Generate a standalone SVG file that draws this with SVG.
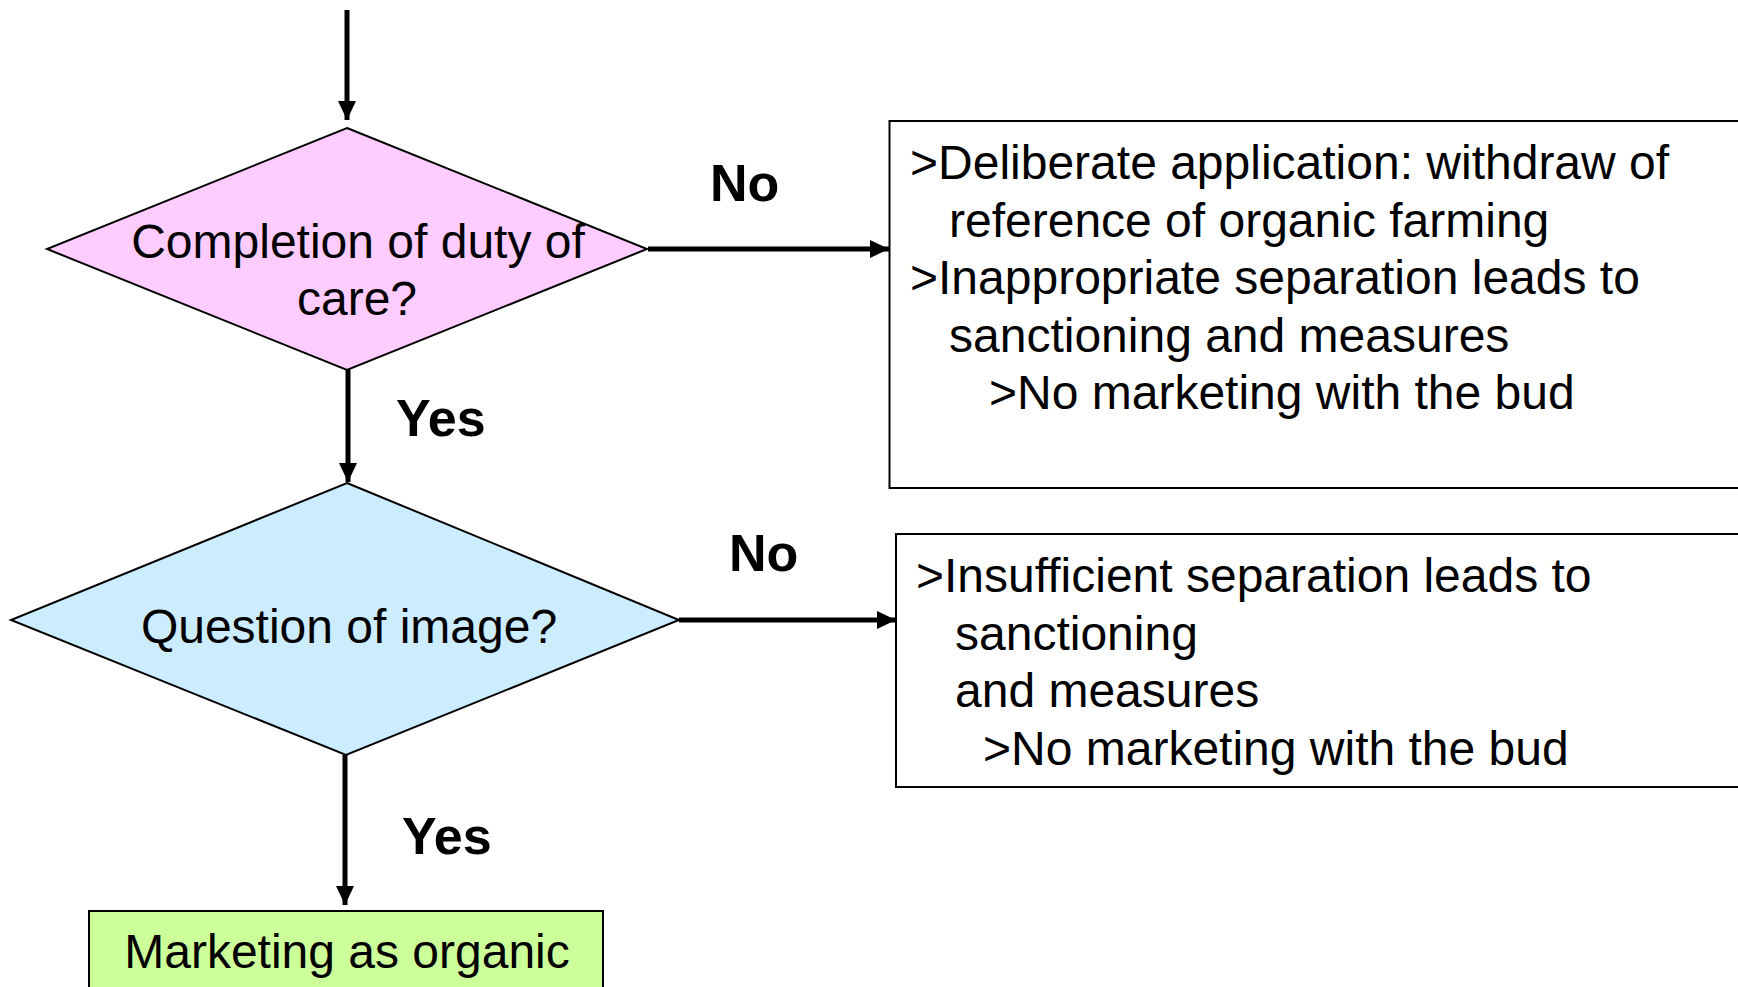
<svg xmlns="http://www.w3.org/2000/svg" width="1738" height="987" viewBox="0 0 1738 987">
  <style>
    .shape { stroke: #000; stroke-width: 2; }
    .txt { font-family: "Liberation Sans", Arial, sans-serif; font-size: 48px; fill: #000; }
    .lbl { font-family: "Liberation Sans", Arial, sans-serif; font-size: 52px; font-weight: bold; fill: #000; }
    .conn { stroke: #000; stroke-width: 5; fill: none; marker-end: url(#arrow); }
  </style>
  <defs>
    <marker id="arrow" markerUnits="userSpaceOnUse" markerWidth="20" markerHeight="18" refX="19" refY="9" orient="auto">
      <path d="M0,0 L19,9 L0,18 z" fill="#000"/>
    </marker>
  </defs>
  <rect width="1738" height="987" fill="#fff"/>

  <g id="connectors">
    <line class="conn" x1="347" y1="10" x2="347" y2="120"/>
    <line class="conn" x1="648" y1="249" x2="889" y2="249"/>
    <line class="conn" x1="348" y1="370" x2="348" y2="482"/>
    <line class="conn" x1="679" y1="620" x2="896" y2="620"/>
    <line class="conn" x1="345" y1="755" x2="345" y2="905"/>
  </g>

  <g id="labels">
    <text class="lbl" x="710" y="201">No</text>
    <text class="lbl" x="396" y="436">Yes</text>
    <text class="lbl" x="729" y="571">No</text>
    <text class="lbl" x="402" y="854">Yes</text>
  </g>

  <g id="decision-care">
    <polygon class="shape" fill="#FFCCFF" points="347,128 647,249 347,370 47,249"/>
    <text class="txt" text-anchor="middle" x="358" y="258">Completion of duty of</text>
    <text class="txt" text-anchor="middle" x="357" y="315">care?</text>
  </g>

  <g id="outcome-no-care">
    <rect class="shape" fill="#fff" x="889.5" y="121" width="870" height="367"/>
    <text class="txt" x="910" y="179">&gt;Deliberate application: withdraw of</text>
    <text class="txt" x="949" y="236.5">reference of organic farming</text>
    <text class="txt" x="910" y="294">&gt;Inappropriate separation leads to</text>
    <text class="txt" x="949" y="351.5">sanctioning and measures</text>
    <text class="txt" x="989" y="409">&gt;No marketing with the bud</text>
  </g>

  <g id="decision-image">
    <polygon class="shape" fill="#CCECFF" points="347,483 679,620 346,755 11,620"/>
    <text class="txt" text-anchor="middle" x="349" y="643">Question of image?</text>
  </g>

  <g id="outcome-no-image">
    <rect class="shape" fill="#fff" x="896" y="534" width="870" height="253"/>
    <text class="txt" x="916" y="592">&gt;Insufficient separation leads to</text>
    <text class="txt" x="955" y="650">sanctioning</text>
    <text class="txt" x="955" y="707">and measures</text>
    <text class="txt" x="983" y="765">&gt;No marketing with the bud</text>
  </g>

  <g id="marketing-organic">
    <rect class="shape" fill="#CCFF99" x="89" y="911" width="514" height="100"/>
    <text class="txt" text-anchor="middle" x="347" y="968">Marketing as organic</text>
  </g>
</svg>
